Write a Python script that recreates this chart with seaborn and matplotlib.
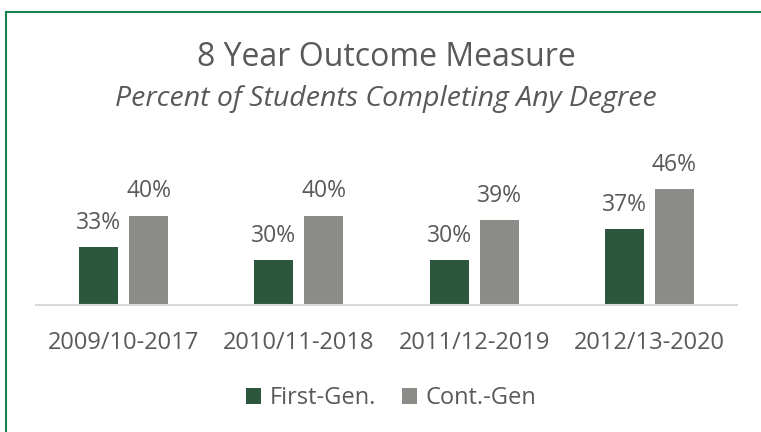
import matplotlib
matplotlib.use("Agg")
import matplotlib.pyplot as plt
import seaborn as sns
import pandas as pd
from matplotlib.patches import Rectangle

# Données
cohorts = ["2009/10-2017", "2010/11-2018", "2011/12-2019", "2012/13-2020"]
first_gen = [33, 30, 30, 37]
cont_gen = [40, 40, 39, 46]
groups = ["First-Gen.", "Cont.-Gen"]

df = pd.DataFrame({
    "cohort": cohorts * 2,
    "pct": first_gen + cont_gen,
    "group": [groups[0]] * len(cohorts) + [groups[1]] * len(cohorts),
})

sns.set_theme(style="white")
plt.rcParams["font.family"] = ["Open Sans", "DejaVu Sans"]
text_color = "#595959"

W, H = 761, 432
fig = plt.figure(figsize=(W / 100, H / 100), dpi=100)
ax = fig.add_axes([36 / W, 1 - 305 / H, (737 - 36) / W, (305 - 140) / H])

sns.barplot(data=df, x="cohort", y="pct", hue="group", order=cohorts, hue_order=groups,
            palette=["#265E3A", "#8C8B87"], width=0.57, gap=0.22, ax=ax,
            edgecolor="none", linewidth=0)

for cont in ax.containers:
    ax.bar_label(cont, labels=[f"{v:.0f}%" for v in cont.datavalues],
                 padding=9, fontsize=16.5, color=text_color)

ax.set_ylim(20, 57)
ax.set_xlabel("")
ax.set_ylabel("")
ax.set_yticks([])
ax.tick_params(axis="x", length=0, pad=19, labelsize=17, labelcolor=text_color)
for side in ["top", "right", "left"]:
    ax.spines[side].set_visible(False)
ax.spines["bottom"].set_color("#d9d9d9")
ax.spines["bottom"].set_linewidth(1.5)
ax.set_facecolor("none")

ax.legend(loc="center", bbox_to_anchor=(391 / W, 1 - 398 / H), bbox_transform=fig.transFigure,
          ncol=2, frameon=False, fontsize=17, labelcolor=text_color,
          handlelength=0.65, handleheight=0.65, handletextpad=0.35, columnspacing=1.1)

fig.text(386 / W, 1 - 57 / H, "8 Year Outcome Measure", ha="center", va="center",
         fontsize=23, color=text_color)
fig.text(386 / W, 1 - 99 / H, "Percent of Students Completing Any Degree", ha="center",
         va="center", fontsize=20.5, style="italic", color=text_color)

# cadre vert autour du graphique
fig.patches.append(Rectangle((6 / W, -0.2), 1.2, 1.2 - 12 / H, transform=fig.transFigure,
                             fill=False, edgecolor="#17844a", linewidth=1.5))

fig.savefig("out.png", dpi=100, facecolor="white")
